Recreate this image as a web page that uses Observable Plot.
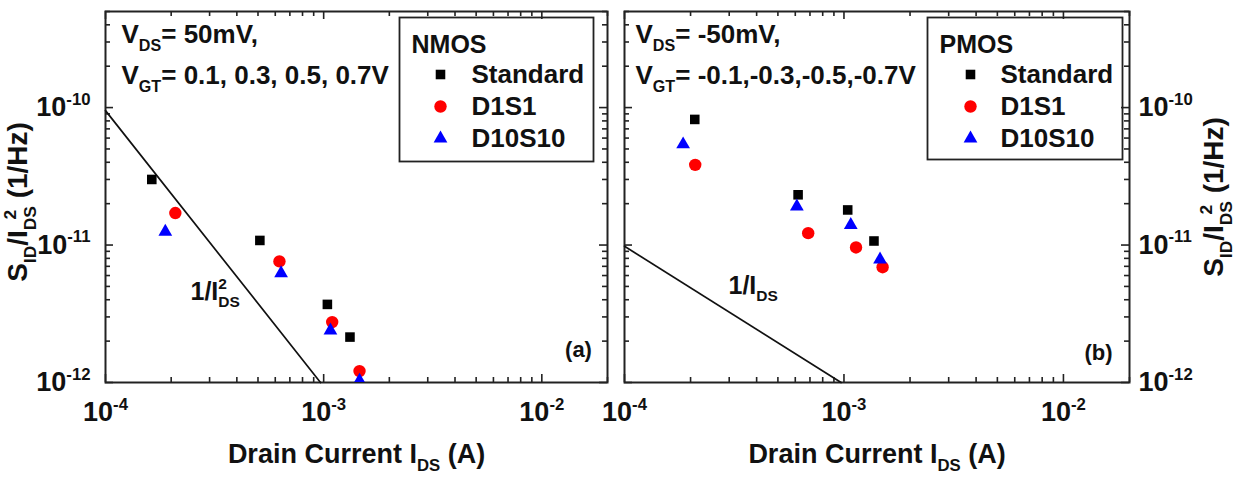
<!DOCTYPE html>
<html>
<head>
<meta charset="utf-8">
<script src="https://cdn.jsdelivr.net/npm/d3@7"></script>
<script src="https://cdn.jsdelivr.net/npm/@observablehq/plot@0.6"></script>
<style>
  html, body { margin: 0; padding: 0; background: #fff; }
  #chart { position: relative; width: 1245px; height: 484px; overflow: hidden; }
  #chart svg { position: absolute; top: 0; overflow: visible; background: transparent; max-width: none; }
</style>
</head>
<body>
<div id="chart"></div>
<script>
// Normalized drain-current noise S_ID/I_DS^2 (1/Hz) against drain current I_DS (A)
const seriesNames = ["Standard", "D1S1", "D10S10"];

// NMOS, V_DS = 50 mV, V_GT = 0.1, 0.3, 0.5, 0.7 V
const nmosStandardI = [1.63e-4, 5.1e-4, 1.04e-3, 1.32e-3];
const nmosStandardS = [3.0e-11, 1.08e-11, 3.7e-12, 2.14e-12];
const nmosD1S1I = [2.09e-4, 6.27e-4, 1.094e-3, 1.46e-3];
const nmosD1S1S = [1.71e-11, 7.6e-12, 2.75e-12, 1.21e-12];
const nmosD10S10I = [1.88e-4, 6.38e-4, 1.074e-3, 1.46e-3];
const nmosD10S10S = [1.25e-11, 6.24e-12, 2.39e-12, 1.03e-12];
// 1/I_DS^2 guide line
const nmosGuideI = [1e-4, 9.67e-4];
const nmosGuideS = [9.5e-11, 1e-12];

// PMOS, V_DS = -50 mV, V_GT = -0.1, -0.3, -0.5, -0.7 V
const pmosStandardI = [2.09e-4, 6.18e-4, 1.04e-3, 1.37e-3];
const pmosStandardS = [8.2e-11, 2.32e-11, 1.8e-11, 1.07e-11];
const pmosD1S1I = [2.1e-4, 6.87e-4, 1.135e-3, 1.5e-3];
const pmosD1S1S = [3.83e-11, 1.22e-11, 9.6e-12, 6.9e-12];
const pmosD10S10I = [1.85e-4, 6.1e-4, 1.074e-3, 1.46e-3];
const pmosD10S10S = [5.4e-11, 1.91e-11, 1.4e-11, 7.85e-12];
// 1/I_DS guide line
const pmosGuideI = [1e-4, 9.7e-4];
const pmosGuideS = [9.8e-12, 1e-12];

// Axis extents and labelled decades
const xDomain = [1e-4, 2e-2];
const yDomain = [1e-12, 5e-10];
const xLabelTicks = [1e-4, 1e-3, 1e-2];
const yLabelTicks = [1e-12, 1e-11, 1e-10];

const FONT = "'Liberation Sans', Arial, Helvetica, sans-serif";
const INK = "#111";
const AXIS = "#222";
const style = {
  Standard: {symbol: "square", fill: "#000000", r: 5.4},
  D1S1: {symbol: "circle", fill: "#ff0000", r: 6.2},
  D10S10: {symbol: "triangle", fill: "#0000ff", r: 5.1}
};

const rows = (I, S) => I.map((v, i) => ({I: v, S: S[i]}));
const isDecade = v => Math.abs(Math.log10(v) - Math.round(Math.log10(v))) < 1e-6;
const pow10 = d => `10^{${Math.round(Math.log10(d))}}`;

const HEIGHT = 484, MT = 11, MB = 102, FRAME_H = HEIGHT - MT - MB;
const MAJOR = 8, MINOR = 5;

function panel(o) {
  const xt = d3.scaleLog().domain(xDomain).ticks();
  const yt = d3.scaleLog().domain(yDomain).ticks();
  const frameW = o.width - o.marginLeft - o.marginRight;
  const txt = (size) => ({fontFamily: FONT, fontWeight: "bold", fontSize: size, fill: INK, lineAnchor: "middle"});

  // inward ticks on all four sides of the frame
  const tickMarks = [];
  for (const [vals, len] of [[xt.filter(isDecade), MAJOR], [xt.filter(v => !isDecade(v)), MINOR]]) {
    tickMarks.push(Plot.tickX(vals, {x: d => d, insetTop: FRAME_H - len, stroke: AXIS, strokeWidth: 1.6}));
    tickMarks.push(Plot.tickX(vals, {x: d => d, insetBottom: FRAME_H - len, stroke: AXIS, strokeWidth: 1.6}));
  }
  for (const [vals, len] of [[yt.filter(isDecade), MAJOR], [yt.filter(v => !isDecade(v)), MINOR]]) {
    tickMarks.push(Plot.tickY(vals, {y: d => d, insetRight: frameW - len, stroke: AXIS, strokeWidth: 1.6}));
    tickMarks.push(Plot.tickY(vals, {y: d => d, insetLeft: frameW - len, stroke: AXIS, strokeWidth: 1.6}));
  }

  const yLeft = o.yAxis === "left";
  const L = o.legend;

  return Plot.plot({
    width: o.width,
    height: HEIGHT,
    marginTop: MT,
    marginBottom: MB,
    marginLeft: o.marginLeft,
    marginRight: o.marginRight,
    x: {type: "log", domain: xDomain, axis: null},
    y: {type: "log", domain: yDomain, axis: null},
    marks: [
      ...tickMarks,
      Plot.frame({stroke: AXIS, strokeWidth: 2}),
      Plot.line(rows(o.guideI, o.guideS), {x: "I", y: "S", stroke: INK, strokeWidth: 1.7}),
      ...o.series.map(s => Plot.dot(s.rows, {
        x: "I", y: "S", symbol: style[s.name].symbol, r: style[s.name].r,
        fill: style[s.name].fill, stroke: "none", clip: true
      })),
      // legend box, heading, symbols and names
      Plot.frame({insetLeft: L.left, insetRight: L.right, insetTop: L.top, insetBottom: L.bottom, stroke: AXIS, strokeWidth: 1.8}),
      Plot.text([o.device], {frameAnchor: "top-left", dx: L.titleDx, dy: L.titleDy, textAnchor: "start", ...txt(25)}),
      ...seriesNames.map((name, i) => Plot.dot([name], {
        frameAnchor: "top-left", dx: L.markDx, dy: L.rowDy[i],
        symbol: style[name].symbol, r: style[name].r, fill: style[name].fill, stroke: "none"
      })),
      ...seriesNames.map((name, i) => Plot.text([name], {frameAnchor: "top-left", dx: L.textDx, dy: L.rowDy[i], textAnchor: "start", ...txt(26)})),
      // bias conditions
      ...o.bias.map((b, i) => Plot.text([b], {frameAnchor: "top-left", dx: o.biasDx, dy: o.biasDy[i], textAnchor: "start", ...txt(26)})),
      // guide label and panel tag
      Plot.text([o.guideLabel], {frameAnchor: "top-left", dx: o.guideLabelPos[0], dy: o.guideLabelPos[1], textAnchor: "start", ...txt(25)}),
      Plot.text([o.tag], {frameAnchor: "bottom-right", dx: o.tagPos[0], dy: o.tagPos[1], textAnchor: "middle", ...txt(22)}),
      // tick labels
      Plot.text(xLabelTicks, {x: d => d, frameAnchor: "bottom", dy: 30, text: pow10, textAnchor: "middle", ...txt(27)}),
      Plot.text(yLabelTicks, {y: d => d, frameAnchor: yLeft ? "left" : "right", dx: yLeft ? -15 : 9,
        text: pow10, textAnchor: yLeft ? "end" : "start", ...txt(27)}),
      // axis titles
      Plot.text(["Drain Current I_{DS} (A)"], {frameAnchor: "bottom", dy: 72, textAnchor: "middle", ...txt(27)}),
      Plot.text(["S_{ID}/I_{DS}^{2} (1/Hz)"], {frameAnchor: yLeft ? "left" : "right", dx: yLeft ? -87 : 85, dy: yLeft ? 5 : 0,
        rotate: -90, textAnchor: "middle", ...txt(28)})
    ]
  });
}

// Turn _{...} and ^{...} runs into subscript / superscript tspans.
// A superscript right after a subscript is set over it: fully stacked in
// upright labels, shifted toward the end of the subscript in rotated titles.
function richify(root) {
  const NS = "http://www.w3.org/2000/svg";
  root.querySelectorAll("text").forEach(t => {
    const s = t.textContent;
    if (!/[_^]\{/.test(s)) return;
    const fs = parseFloat(getComputedStyle(t).fontSize);
    const rotated = /rotate/.test(t.getAttribute("transform") || "");
    const stack = rotated ? 0.55 : 1;
    const parts = [...s.matchAll(/([_^])\{([^}]*)\}|([^_^]+)/g)];
    t.textContent = "";
    let shift = 0, lastSub = null, pendingDx = 0;
    for (const m of parts) {
      const ts = document.createElementNS(NS, "tspan");
      let target = 0;
      if (m[3] !== undefined) {
        ts.textContent = m[3];
      } else {
        ts.textContent = m[2];
        ts.setAttribute("font-size", (fs * 0.62).toFixed(2));
        target = m[1] === "_" ? fs * 0.3 : -fs * 0.42;
      }
      const dy = target - shift;
      if (Math.abs(dy) > 1e-6) ts.setAttribute("dy", dy.toFixed(2));
      shift = target;
      t.appendChild(ts);
      if (pendingDx > 0 && m[3] !== undefined) ts.setAttribute("dx", pendingDx.toFixed(2));
      if (m[1] === "^" && lastSub) {
        const w = lastSub.getComputedTextLength();
        ts.setAttribute("dx", (-w * stack).toFixed(2));
        pendingDx = Math.max(0, w * stack - ts.getComputedTextLength());
      } else if (m[3] !== undefined) {
        pendingDx = 0;
      }
      lastSub = m[1] === "_" ? ts : null;
    }
  });
}

const leftSvg = panel({
  width: 615, marginLeft: 105, marginRight: 8, yAxis: "left",
  series: [
    {name: "Standard", rows: rows(nmosStandardI, nmosStandardS)},
    {name: "D1S1", rows: rows(nmosD1S1I, nmosD1S1S)},
    {name: "D10S10", rows: rows(nmosD10S10I, nmosD10S10S)}
  ],
  guideI: nmosGuideI, guideS: nmosGuideS,
  guideLabel: "1/I_{DS}^{2}", guideLabelPos: [85, 280],
  device: "NMOS",
  bias: ["V_{DS}= 50mV,", "V_{GT}= 0.1, 0.3, 0.5, 0.7V"], biasDx: 16, biasDy: [23, 64],
  tag: "(a)", tagPos: [-29, -33],
  legend: {left: 294, right: 14, top: 6, bottom: 221, titleDx: 306, titleDy: 33, markDx: 335, textDx: 366, rowDy: [63, 95, 127]}
});

const rightSvg = panel({
  width: 630, marginLeft: 9, marginRight: 116, yAxis: "right",
  series: [
    {name: "Standard", rows: rows(pmosStandardI, pmosStandardS)},
    {name: "D1S1", rows: rows(pmosD1S1I, pmosD1S1S)},
    {name: "D10S10", rows: rows(pmosD10S10I, pmosD10S10S)}
  ],
  guideI: pmosGuideI, guideS: pmosGuideS,
  guideLabel: "1/I_{DS}", guideLabelPos: [104, 274],
  device: "PMOS",
  bias: ["V_{DS}= -50mV,", "V_{GT}= -0.1,-0.3,-0.5,-0.7V"], biasDx: 11, biasDy: [23, 64],
  tag: "(b)", tagPos: [-31, -30],
  legend: {left: 303, right: 7, top: 6, bottom: 223, titleDx: 315, titleDy: 33, markDx: 346, textDx: 376, rowDy: [63, 95, 127]}
});

const chart = document.getElementById("chart");
leftSvg.style.left = "0px";
rightSvg.style.left = "615px";
chart.appendChild(leftSvg);
chart.appendChild(rightSvg);
richify(leftSvg);
richify(rightSvg);
</script>
</body>
</html>
